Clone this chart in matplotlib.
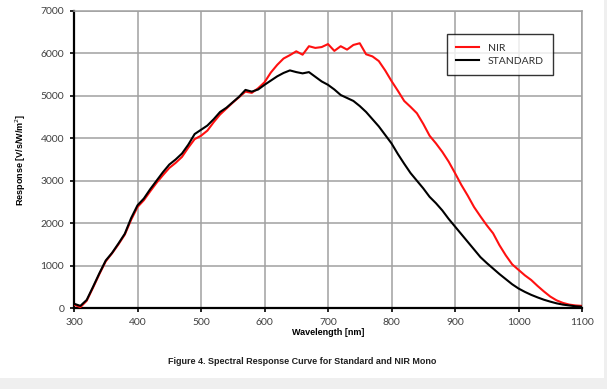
import matplotlib
matplotlib.use('Agg')
import matplotlib.pyplot as plt
from matplotlib.patches import Rectangle

# wavelength grid (nm) and read-off responses
wavelength = [300, 310, 320, 330, 340, 350, 360, 370, 380, 390,
              400, 410, 420, 430, 440, 450, 460, 470, 480, 490,
              500, 510, 520, 530, 540, 550, 560, 570, 580, 590,
              600, 610, 620, 630, 640, 650, 660, 670, 680, 690,
              700, 710, 720, 730, 740, 750, 760, 770, 780, 790,
              800, 810, 820, 830, 840, 850, 860, 870, 880, 890,
              900, 910, 920, 930, 940, 950, 960, 970, 980, 990,
              1000, 1010, 1020, 1030, 1040, 1050, 1060, 1070, 1080, 1090, 1100]

nir = [80, 20, 170, 480, 800, 1100, 1290, 1500, 1730, 2080,
       2380, 2540, 2750, 2950, 3130, 3300, 3420, 3560, 3780, 3980,
       4060, 4180, 4380, 4560, 4700, 4840, 4970, 5100, 5070, 5180,
       5320, 5550, 5730, 5880, 5960, 6050, 5970, 6170, 6130, 6150,
       6220, 6060, 6170, 6090, 6200, 6240, 5980, 5930, 5820, 5600,
       5350, 5120, 4880, 4740, 4590, 4340, 4060, 3880, 3680, 3450,
       3180, 2900, 2650, 2380, 2160, 1950, 1760, 1480, 1240, 1030,
       900, 770, 660, 520, 390, 270, 180, 120, 80, 60, 50]

standard = [100, 50, 190, 500, 820, 1120, 1300, 1520, 1750, 2120,
            2420, 2580, 2800, 3000, 3200, 3380, 3500, 3640, 3850, 4100,
            4200, 4300, 4450, 4620, 4720, 4850, 4980, 5140, 5100, 5150,
            5260, 5360, 5460, 5540, 5600, 5560, 5530, 5560, 5450, 5340,
            5260, 5150, 5020, 4950, 4880, 4760, 4620, 4450, 4280, 4080,
            3880, 3630, 3400, 3180, 3000, 2820, 2620, 2470, 2300, 2100,
            1920, 1740, 1560, 1380, 1200, 1060, 930, 800, 680, 560,
            460, 380, 310, 250, 195, 150, 110, 80, 60, 40, 30]

x_ticks = list(range(300, 1101, 100))
y_ticks = list(range(0, 7001, 1000))

fig = plt.figure(figsize=(6.07, 3.89), dpi=100, facecolor='#efefef')
# white page panel, gray margin at right and bottom
fig.patches.append(Rectangle((0, 1 - 378 / 389), 604 / 607, 378 / 389,
                             transform=fig.transFigure, facecolor='white',
                             edgecolor='none', zorder=-5))

ax = fig.add_axes([74 / 607, 1 - 308 / 389, 508 / 607, 297 / 389])
ax.set_facecolor('white')

ax.plot(wavelength, nir, color='#ff1010', lw=1.5, label='NIR', zorder=3)
ax.plot(wavelength, standard, color='black', lw=1.5, label='STANDARD', zorder=3)

ax.set_xlim(300, 1100)
ax.set_ylim(0, 7000)
ax.set_xticks(x_ticks)
ax.set_yticks(y_ticks)
ax.grid(True, color='#a0a0a0', lw=1.1)
ax.set_axisbelow(True)

for side in ['top', 'right']:
    ax.spines[side].set_color('#a0a0a0')
    ax.spines[side].set_linewidth(1.1)
for side in ['left', 'bottom']:
    ax.spines[side].set_color('black')
    ax.spines[side].set_linewidth(1.6)

ax.tick_params(direction='out', length=3, width=1.2, color='black',
               labelsize=7.5, labelcolor='#404040', pad=4)
for lbl in ax.get_xticklabels() + ax.get_yticklabels():
    lbl.set_fontfamily('Lato')

ax.set_xlabel('Wavelength [nm]', fontsize=6.5, fontweight='bold',
              family='Liberation Sans', labelpad=1)
ax.set_ylabel('Response [V/s/W/m$^2$]', fontsize=6.5, fontweight='bold',
              family='Liberation Sans', labelpad=9)

leg = ax.legend(loc='upper left', bbox_to_anchor=((447 - 74) / 508, 1 - (34 - 11) / 297),
                frameon=True, fancybox=False, handlelength=2.2, borderaxespad=0,
                borderpad=0.9, labelspacing=0.35, prop={'family': 'Lato', 'size': 7.5})
leg.get_frame().set_edgecolor('black')
leg.get_frame().set_linewidth(1.0)
for t in leg.get_texts():
    t.set_color('#303030')

fig.text(302 / 607, 1 - 361 / 389, 'Figure 4. Spectral Response Curve for Standard and NIR Mono',
         ha='center', va='center', fontsize=6.5, fontweight='bold',
         family='Liberation Sans', color='#202020')

plt.savefig('out.png', dpi=100, facecolor=fig.get_facecolor())
